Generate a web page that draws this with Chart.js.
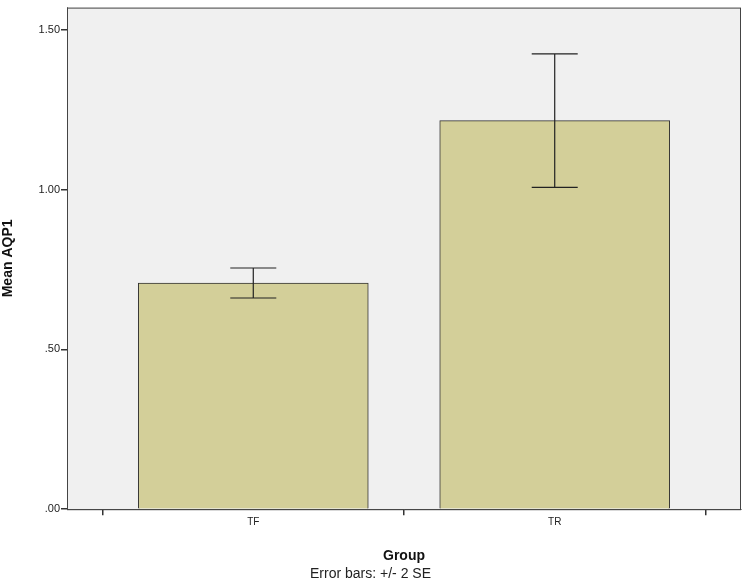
<!DOCTYPE html>
<html>
<head>
<meta charset="utf-8">
<script src="https://cdn.jsdelivr.net/npm/chart.js@4"></script>
<style>
  html, body { margin: 0; padding: 0; background: #fff; }
  #wrap { width: 750px; height: 587px; }
</style>
</head>
<body>
<div id="wrap"><canvas id="c"></canvas></div>
<script>
// Data
const groups = ['TF', 'TR'];
const means = [0.708, 1.216];
const errLow = [0.661, 1.007];
const errHigh = [0.755, 1.425];
const yTicks = [0, 0.5, 1.0, 1.5];

const FONT = "'Liberation Sans', Arial, sans-serif";

// plot background + frame
const plotBg = {
  id: 'plotBg',
  beforeDatasetsDraw(chart) {
    const { ctx, chartArea: a } = chart;
    ctx.save();
    ctx.fillStyle = '#f0f0f0';
    ctx.fillRect(a.left, a.top, a.right - a.left, a.bottom - a.top);
    ctx.restore();
  },
  afterDatasetsDraw(chart) {
    const { ctx, chartArea: a } = chart;
    ctx.save();
    ctx.strokeStyle = '#444';
    ctx.lineWidth = 1;
    ctx.strokeRect(a.left + 0.5, a.top + 0.5, a.right - a.left - 1, a.bottom - a.top);
    ctx.restore();
  }
};

// +/- 2 SE error bars
const errorBars = {
  id: 'errorBars',
  afterDatasetsDraw(chart) {
    const { ctx, scales: { x, y } } = chart;
    ctx.save();
    ctx.strokeStyle = '#222';
    ctx.lineWidth = 1.2;
    groups.forEach((g, i) => {
      const px = x.getPixelForValue(i + 1);
      const lo = y.getPixelForValue(errLow[i]);
      const hi = y.getPixelForValue(errHigh[i]);
      ctx.beginPath();
      ctx.moveTo(px, lo); ctx.lineTo(px, hi);
      ctx.moveTo(px - 23, lo); ctx.lineTo(px + 23, lo);
      ctx.moveTo(px - 23, hi); ctx.lineTo(px + 23, hi);
      ctx.stroke();
    });
    ctx.restore();
  }
};

new Chart(document.getElementById('c'), {
  type: 'bar',
  data: {
    datasets: [{
      data: means.map((v, i) => ({ x: i + 1, y: v })),
      backgroundColor: '#d3cf99',
      borderColor: '#333',
      borderWidth: 1,
      barThickness: 230
    }]
  },
  options: {
    responsive: true,
    maintainAspectRatio: false,
    animation: false,
    layout: { padding: { top: 4, right: 9, left: 0, bottom: 4 } },
    plugins: {
      legend: { display: false },
      tooltip: { enabled: false },
      title: {
        display: true,
        position: 'bottom',
        text: 'Error bars: +/- 2 SE',
        color: '#222',
        font: { family: FONT, size: 14, weight: 'normal' },
        padding: { top: 2, bottom: 0 }
      }
    },
    scales: {
      x: {
        type: 'linear',
        min: 0.382,
        max: 2.618,
        offset: false,
        afterBuildTicks(s) { s.ticks = groups.map((g, i) => ({ value: i + 1 })); },
        afterFit(s) { s.height = 55; },
        ticks: {
          callback: (v) => groups[v - 1] || '',
          color: '#222',
          font: { family: FONT, size: 10 },
          padding: 1
        },
        grid: { display: true, drawOnChartArea: false, drawTicks: true, tickLength: 6, color: '#333', lineWidth: 1.5 },
        border: { display: true, color: '#333' },
        title: {
          display: true,
          text: 'Group',
          color: '#111',
          font: { family: FONT, size: 14, weight: 'bold' },
          padding: { top: 8, bottom: 0 }
        }
      },
      y: {
        min: 0,
        max: 1.57,
        afterBuildTicks(s) { s.ticks = yTicks.map(v => ({ value: v })); },
        afterFit(s) { s.width = 67; },
        ticks: {
          callback: (v) => v.toFixed(2).replace(/^0/, ''),
          color: '#222',
          font: { family: FONT, size: 11 },
          padding: 1
        },
        grid: { display: true, drawOnChartArea: false, drawTicks: true, tickLength: 6, color: '#333', lineWidth: 1.5 },
        border: { display: true, color: '#333' },
        title: {
          display: true,
          text: 'Mean AQP1',
          color: '#111',
          font: { family: FONT, size: 14, weight: 'bold' },
          padding: { top: 0, bottom: 4 }
        }
      }
    }
  },
  plugins: [plotBg, errorBars]
});
</script>
</body>
</html>
